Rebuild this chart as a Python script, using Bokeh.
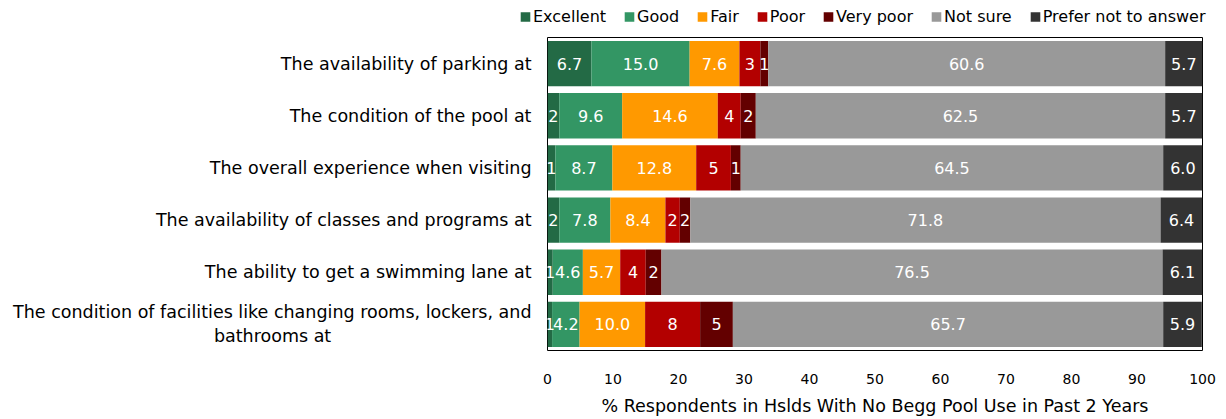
from bokeh.plotting import figure
from bokeh.layouts import column, row
from bokeh.models import ColumnDataSource, FactorRange, Range1d, Legend, LegendItem, Spacer
from bokeh.core.properties import value
from bokeh.embed import file_html
from bokeh.resources import INLINE

categories = [
    "The availability of parking at",
    "The condition of the pool at",
    "The overall experience when visiting",
    "The availability of classes and programs at",
    "The ability to get a swimming lane at",
    "The condition of facilities like changing rooms, lockers, and\nbathrooms at",
]
series_names = ["Excellent", "Good", "Fair", "Poor", "Very poor", "Not sure", "Prefer not to answer"]
colors = ["#236a45", "#339664", "#ff9900", "#b30000", "#630000", "#999999", "#333333"]

excellent = [6.7, 1.8, 1.2, 1.8, 0.8, 0.7]
good = [15.0, 9.6, 8.7, 7.8, 4.6, 4.2]
fair = [7.6, 14.6, 12.8, 8.4, 5.7, 10.0]
poor = [3.2, 3.5, 5.3, 2.2, 3.9, 8.4]
very_poor = [1.2, 2.3, 1.5, 1.6, 2.4, 5.0]
not_sure = [60.6, 62.5, 64.5, 71.8, 76.5, 65.7]
prefer_not = [5.7, 5.7, 6.0, 6.4, 6.1, 5.9]

excellent_lbl = ["6.7", "2", "1", "2", "1", "1"]
good_lbl = ["15.0", "9.6", "8.7", "7.8", "4.6", "4.2"]
fair_lbl = ["7.6", "14.6", "12.8", "8.4", "5.7", "10.0"]
poor_lbl = ["3", "4", "5", "2", "4", "8"]
very_poor_lbl = ["1", "2", "1", "2", "2", "5"]
not_sure_lbl = ["60.6", "62.5", "64.5", "71.8", "76.5", "65.7"]
prefer_not_lbl = ["5.7", "5.7", "6.0", "6.4", "6.1", "5.9"]

x_ticks = [0, 10, 20, 30, 40, 50, 60, 70, 80, 90, 100]
x_title = "% Respondents in Hslds With No Begg Pool Use in Past 2 Years"

series = [excellent, good, fair, poor, very_poor, not_sure, prefer_not]
labels = [excellent_lbl, good_lbl, fair_lbl, poor_lbl, very_poor_lbl, not_sure_lbl, prefer_not_lbl]
keys = ["s%d" % i for i in range(len(series))]


def centered_lines(label, pad=36):
    # axis labels are right-aligned: pad the short second line so it sits centred
    lines = label.split("\n")
    if len(lines) == 1:
        return label
    return lines[0] + "\n" + lines[1] + "\u00a0" * pad


factors = [centered_lines(c) for c in categories]

data = {"cat": factors}
for k, s in zip(keys, series):
    data[k] = s
source = ColumnDataSource(data)

FONT = "DejaVu Sans"
W = 1220
LEG_H = 32
LEG_X = 519

# ---- legend strip (separate figure so the legend sits above the framed plot) ----
pl = figure(width=W - LEG_X, height=LEG_H, x_range=Range1d(0, 1), y_range=Range1d(0, 1),
            output_backend="svg", toolbar_location=None,
            x_axis_location=None, y_axis_location=None, min_border=0)
pl.xgrid.visible = False
pl.ygrid.visible = False
pl.outline_line_color = None
# zero-area proxy renderers, used only for the legend swatches
leg_renderers = [pl.hbar(y=[-5], left=[0], right=[0], height=0, color=c, line_color=None) for c in colors]
items = [LegendItem(label=n, renderers=[r]) for n, r in zip(series_names, leg_renderers)]
legend = Legend(items=items, orientation="horizontal", location="center_left",
                glyph_width=12, glyph_height=12, label_standoff=2, spacing=17, padding=4, margin=0,
                label_text_font_size="16px", label_text_font=FONT, label_text_color="black",
                border_line_color=None, background_fill_alpha=0)
pl.add_layout(legend, "center")

# ---- main chart ----
p = figure(
    width=W, height=418 - LEG_H,
    x_range=Range1d(0, 100),
    y_range=FactorRange(*list(reversed(factors))),
    output_backend="svg", toolbar_location=None,
    min_border_left=547, min_border_right=18, min_border_top=37 - LEG_H, min_border_bottom=62,
)

p.hbar_stack(keys, y="cat", height=0.87, color=colors, line_color=None, source=source)

xs, ys, ts = [], [], []
for i, cat in enumerate(factors):
    left = 0.0
    for s, lbl in zip(series, labels):
        xs.append(left + s[i] / 2.0)
        ys.append(cat)
        ts.append(lbl[i])
        left += s[i]
lab_src = ColumnDataSource(dict(x=xs, y=ys, t=ts))
p.text(x="x", y="y", text="t", source=lab_src, text_align="center", text_baseline="middle",
       text_color="white", text_font_size="16px", text_font=value(FONT))

p.xgrid.visible = False
p.ygrid.visible = False
p.outline_line_color = "black"
p.outline_line_width = 1

p.xaxis.ticker = x_ticks
p.xaxis.axis_line_color = None
p.xaxis.major_tick_line_color = None
p.xaxis.minor_tick_line_color = None
p.xaxis.major_label_text_font_size = "14px"
p.xaxis.major_label_text_font = FONT
p.xaxis.major_label_text_color = "black"
p.xaxis.major_label_standoff = 17
p.xaxis.axis_label = x_title
p.xaxis.axis_label_text_font_size = "17.5px"
p.xaxis.axis_label_text_font = FONT
p.xaxis.axis_label_text_font_style = "normal"
p.xaxis.axis_label_text_color = "black"
p.xaxis.axis_label_standoff = 9

p.yaxis.axis_line_color = None
p.yaxis.major_tick_line_color = None
p.yaxis.minor_tick_line_color = None
p.yaxis.major_tick_out = 0
p.yaxis.major_label_text_font_size = "17.5px"
p.yaxis.major_label_text_font = FONT
p.yaxis.major_label_text_color = "black"
p.yaxis.major_label_standoff = 16

layout = column(row(Spacer(width=LEG_X, height=LEG_H), pl, spacing=0), p, spacing=0)
open("out.html", "w").write(file_html(layout, INLINE))
